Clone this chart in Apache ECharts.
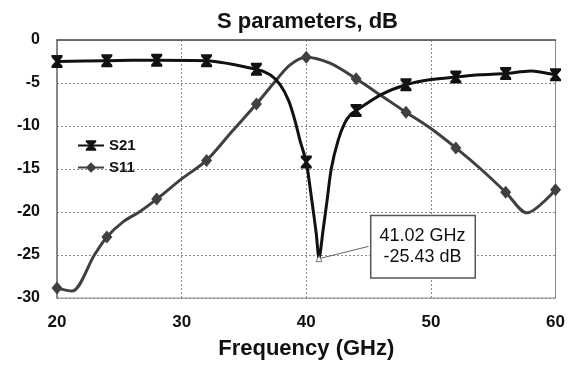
<!DOCTYPE html>
<html>
<head>
<meta charset="utf-8">
<script src="https://cdn.jsdelivr.net/npm/echarts@6/dist/echarts.min.js"></script>
<style>
html,body{margin:0;padding:0;background:#fff;}
#chart{width:568px;height:365px;}
</style>
</head>
<body>
<div id="chart"></div>
<script>
// S21 curve (GHz, dB)
var s21Freq = [20, 24, 28, 32, 36, 37.1, 37.9, 38.6, 39.1, 39.5, 40, 40.45, 40.8, 41.02, 41.35, 41.67, 42.0, 42.55, 43.1, 43.6, 44, 46, 48, 50, 52, 54, 56, 58, 60];
var s21Vals = [-2.5, -2.4, -2.35, -2.4, -3.4, -4.05, -5.2, -7.1, -9.4, -11.7, -14.2, -18.7, -22.5, -25.43, -22.1, -18.65, -15.0, -11.7, -9.6, -8.6, -8.2, -6.35, -5.2, -4.6, -4.3, -4.05, -3.9, -3.6, -4.05];
// S11 curve
var s11Freq = [20, 21.2, 23, 24, 25.3, 26.6, 28, 30, 32, 34, 36, 37.4, 38.7, 40, 41.9, 44, 46, 48, 50, 52, 54, 56, 57.7, 60];
var s11Vals = [-28.85, -29.2, -25.0, -22.9, -21.15, -20.0, -18.5, -16.15, -14.0, -10.7, -7.45, -5.0, -2.9, -2.0, -2.7, -4.5, -6.45, -8.4, -10.3, -12.55, -15.0, -17.7, -20.1, -17.4];
// frequencies carrying a marker
var markerFreq = [20, 24, 28, 32, 36, 40, 44, 48, 52, 56, 60];
// annotation
var notePoint = [41.02, -25.43];
var noteLines = ['41.02 GHz', '-25.43 dB'];
var noteAnchor = [45.0, -24.0];

var font = 'Liberation Sans, Arial, sans-serif';
var hourglass = 'path://M0,0 L10,0 L10,2 L6.5,6 L10,10 L10,12 L0,12 L0,10 L3.5,6 L0,2 Z';

function build(freq, vals){
    return freq.map(function(f, i){
        var item = {value: [f, vals[i]]};
        if (markerFreq.indexOf(f) < 0) item.symbol = 'none';
        return item;
    });
}

var chart = echarts.init(document.getElementById('chart'));
var option = {
    backgroundColor: '#fff',
    animation: false,
    title: {
        text: 'S parameters, dB',
        left: 212,
        top: 6,
        textStyle: {fontFamily: font, fontSize: 22, fontWeight: 'bold', color: '#111'}
    },
    legend: {
        orient: 'vertical',
        left: 72,
        top: 133,
        itemWidth: 26,
        itemHeight: 13,
        itemGap: 7,
        textStyle: {fontFamily: font, fontSize: 15, fontWeight: 'bold', color: '#111'},
        data: ['S21', 'S11']
    },
    grid: {
        left: 57, right: 9, top: 40, bottom: 65,
        show: true,
        borderColor: '#888',
        borderWidth: 1
    },
    xAxis: {
        type: 'value',
        min: 20, max: 60, interval: 10,
        name: 'Frequency (GHz)',
        nameLocation: 'middle',
        nameGap: 40,
        nameTextStyle: {fontFamily: font, fontSize: 22, fontWeight: 'bold', color: '#111'},
        axisLine: {lineStyle: {color: '#555', width: 1.5}},
        axisTick: {show: false},
        axisLabel: {fontFamily: font, fontSize: 17, fontWeight: 'bold', color: '#111', margin: 16},
        splitLine: {show: true, lineStyle: {color: '#888', type: [2, 2], width: 1}}
    },
    yAxis: {
        type: 'value',
        min: -30, max: 0, interval: 5,
        axisLine: {show: true, lineStyle: {color: '#777', width: 1.5}},
        axisTick: {show: false},
        axisLabel: {fontFamily: font, fontSize: 16, fontWeight: 'bold', color: '#111', margin: 17},
        splitLine: {show: true, lineStyle: {color: '#888', type: [2, 2], width: 1}}
    },
    series: [{
        name: 'S21',
        type: 'line',
        smooth: 0.25,
        symbol: hourglass,
        symbolSize: [11, 13],
        showAllSymbol: true,
        lineStyle: {color: '#111', width: 3},
        itemStyle: {color: '#111'},
        z: 3,
        data: build(s21Freq, s21Vals),
        markPoint: {
            symbol: 'triangle',
            symbolSize: 6,
            itemStyle: {color: '#fff', borderColor: '#777', borderWidth: 1},
            label: {
                show: true,
                offset: [104, -12],
                fontFamily: font,
                fontSize: 18,
                lineHeight: 21,
                color: '#111',
                align: 'center',
                backgroundColor: '#fff',
                borderColor: '#555',
                borderWidth: 1.5,
                padding: [10, 9, 9, 8],
                formatter: noteLines.join('\n')
            },
            data: [{coord: notePoint}]
        },
        markLine: {
            silent: true,
            symbol: 'none',
            lineStyle: {color: '#666', width: 1, type: 'solid'},
            label: {show: false},
            data: [[{coord: notePoint}, {coord: noteAnchor}]]
        }
    }, {
        name: 'S11',
        type: 'line',
        smooth: 0.3,
        symbol: 'diamond',
        symbolSize: [11, 13],
        showAllSymbol: true,
        lineStyle: {color: '#404040', width: 3},
        itemStyle: {color: '#404040'},
        z: 2,
        data: build(s11Freq, s11Vals)
    }]
};
chart.setOption(option);
</script>
</body>
</html>
